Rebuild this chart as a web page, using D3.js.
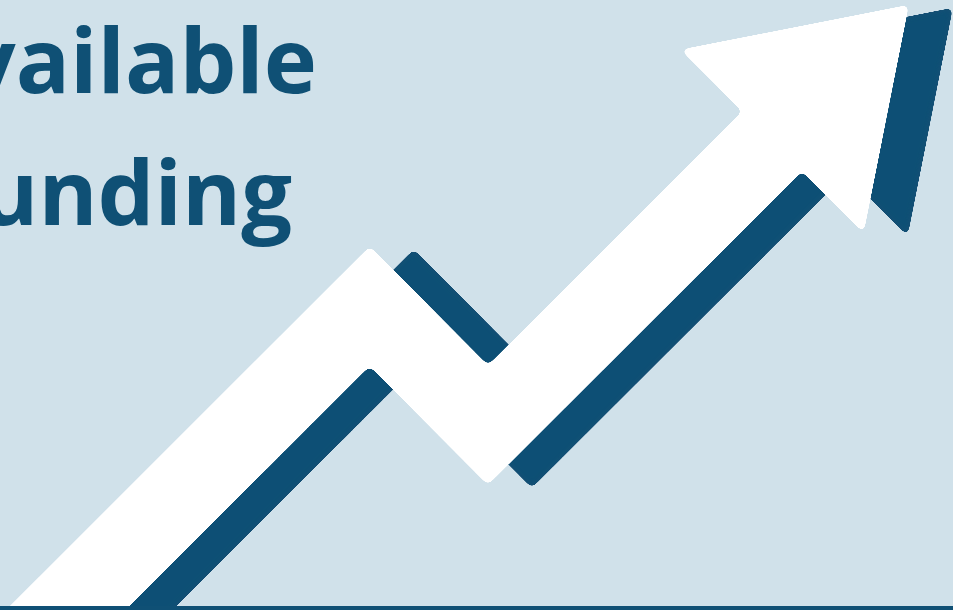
<!DOCTYPE html>
<html>
<head>
<meta charset="utf-8">
<script src="https://cdn.jsdelivr.net/npm/d3@7"></script>
<style>
  html, body { margin: 0; padding: 0; background: #d0e1ea; }
  svg { display: block; }
</style>
</head>
<body>
<div id="chart"></div>
<script>
// title lines (the first letters run off the left edge, as in the picture)
var titleLines = ["Available", "Funding"];

// arrow path: period position (0-100) and funding level (0-100)
var periods = [2.1, 38.8, 51.2, 81.0];
var funding = [-7.5, 49.8, 30.3, 76.8];

var width = 953,
  height = 610;

var colors = { bg: "#d0e1ea", dark: "#0f5075", arrow: "#ffffff" };

var x = d3.scaleLinear().domain([0, 100]).range([0, width]);
var y = d3.scaleLinear().domain([0, 100]).range([height, 0]);

var svg = d3
  .select("#chart")
  .append("svg")
  .attr("width", width)
  .attr("height", height);

// background
svg
  .append("rect")
  .attr("width", width)
  .attr("height", height)
  .attr("fill", colors.bg);

// gooey filter to soften the corners a little
var filter = svg
  .append("defs")
  .append("filter")
  .attr("id", "soft")
  .attr("x", "-20%")
  .attr("y", "-20%")
  .attr("width", "140%")
  .attr("height", "140%");
filter
  .append("feGaussianBlur")
  .attr("in", "SourceGraphic")
  .attr("stdDeviation", 3)
  .attr("result", "blur");
filter
  .append("feColorMatrix")
  .attr("in", "blur")
  .attr("type", "matrix")
  .attr("values", "1 0 0 0 0  0 1 0 0 0  0 0 1 0 0  0 0 0 24 -12");

// title text
svg
  .selectAll(".title")
  .data(titleLines)
  .enter()
  .append("text")
  .attr("class", "title")
  .attr("x", function(d, i) {
    return i == 0 ? 317 : 292;
  })
  .attr("y", function(d, i) {
    return 93 + i * 132;
  })
  .attr("text-anchor", "end")
  .attr("fill", colors.dark)
  .style("font-family", "'Open Sans', sans-serif")
  .style("font-weight", 700)
  .style("font-size", "90px")
  .text(function(d) {
    return d;
  });

var points = periods.map(function(p, i) {
  return [x(p), y(funding[i])];
});

// arrow head from the direction of the last segment
var headLength = 194,
  headHalf = 130;
var last = points[points.length - 1],
  prev = points[points.length - 2];
var dx = last[0] - prev[0],
  dy = last[1] - prev[1],
  len = Math.sqrt(dx * dx + dy * dy);
var ux = dx / len,
  uy = dy / len;
var head = [
  [last[0] + ux * headLength, last[1] + uy * headLength],
  [last[0] - uy * headHalf, last[1] + ux * headHalf],
  [last[0] + uy * headHalf, last[1] - ux * headHalf]
];

var line = d3.line();

function drawArrow(fill, dxOff, dyOff) {
  var g = svg
    .append("g")
    .attr("transform", "translate(" + dxOff + "," + dyOff + ")")
    .append("g")
    .attr("filter", "url(#soft)");

  g.append("path")
    .attr("d", line(points))
    .attr("fill", "none")
    .attr("stroke", fill)
    .attr("stroke-width", 85)
    .attr("stroke-linejoin", "miter");

  g.append("path")
    .attr("d", line(head) + "Z")
    .attr("fill", fill);
}

// shadow first, then the white arrow on top
drawArrow(colors.dark, 44, 3);
drawArrow(colors.arrow, 0, 0);

// thin rule along the bottom
svg
  .append("rect")
  .attr("x", 0)
  .attr("y", height - 4)
  .attr("width", width)
  .attr("height", 4)
  .attr("fill", colors.dark);
</script>
</body>
</html>
